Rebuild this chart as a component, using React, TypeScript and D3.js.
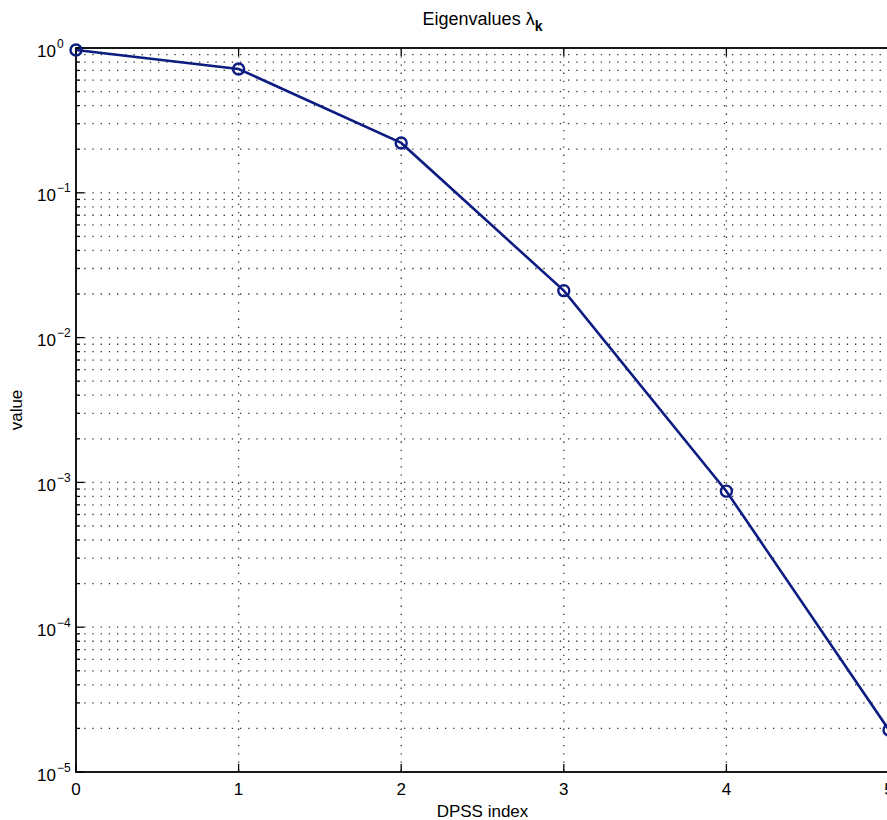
import React from "react";
import * as d3 from "d3";

const dpssIndex = [0, 1, 2, 3, 4, 5];
const eigenvalues = [0.968, 0.716, 0.221, 0.0211, 8.7e-4, 1.95e-5];
const xTicks = [0, 1, 2, 3, 4, 5];
const yExponents = [0, -1, -2, -3, -4, -5];

const W = 887;
const H = 820;
const margin = { left: 76, right: 889, top: 48, bottom: 772 };

export default function App() {
  const x = d3.scaleLinear().domain([0, 5]).range([margin.left, margin.right]);
  const y = d3.scaleLog().domain([1e-5, 1]).range([margin.bottom, margin.top]);

  const minor: number[] = [];
  for (let e = -5; e < 0; e++) {
    for (let m = 2; m <= 9; m++) minor.push(m * Math.pow(10, e));
  }
  const majors = yExponents.map((e) => Math.pow(10, e));

  const line = d3
    .line<number>()
    .x((_, i) => x(dpssIndex[i]))
    .y((d) => y(d));

  const font = "'Liberation Sans', Arial, Helvetica, sans-serif";
  const gridDash = "1.3,6.9";
  const gridColor = "#333";
  const navy = "#0c1c80";

  return (
    <svg width={W} height={H} style={{ position: "absolute", left: 0, top: 0 }} fontFamily={font}>
      <rect x={0} y={0} width={W} height={H} fill="#fff" />
      {/* grid */}
      <g stroke={gridColor} strokeWidth={1.3} strokeDasharray={gridDash} fill="none">
        {[...minor, ...majors.slice(1, 5)].map((v, i) => (
          <line key={"gy" + i} x1={margin.left} x2={margin.right} y1={y(v)} y2={y(v)} />
        ))}
        {xTicks.slice(1, 5).map((t) => (
          <line key={"gx" + t} x1={x(t)} x2={x(t)} y1={margin.top} y2={margin.bottom} />
        ))}
      </g>
      {/* ticks */}
      <g stroke="#000" strokeWidth={1.3}>
        {xTicks.map((t) => (
          <g key={"tx" + t}>
            <line x1={x(t)} x2={x(t)} y1={margin.bottom} y2={margin.bottom - 8} />
            <line x1={x(t)} x2={x(t)} y1={margin.top} y2={margin.top + 8} />
          </g>
        ))}
        {majors.map((v, i) => (
          <line key={"ty" + i} x1={margin.left} x2={margin.left + 8} y1={y(v)} y2={y(v)} />
        ))}
        {minor.map((v, i) => (
          <line key={"tm" + i} x1={margin.left} x2={margin.left + 4} y1={y(v)} y2={y(v)} />
        ))}
      </g>
      {/* box */}
      <rect
        x={margin.left}
        y={margin.top}
        width={margin.right - margin.left}
        height={margin.bottom - margin.top}
        fill="none"
        stroke="#000"
        strokeWidth={1.8}
      />
      {/* data */}
      <path d={line(eigenvalues) || ""} fill="none" stroke={navy} strokeWidth={2.6} />
      {eigenvalues.map((v, i) => (
        <circle key={"p" + i} cx={x(dpssIndex[i])} cy={y(v)} r={5.5} fill="none" stroke={navy} strokeWidth={2.4} />
      ))}
      {/* x labels */}
      {xTicks.map((t) => (
        <text key={"lx" + t} x={x(t)} y={795} fontSize={17} textAnchor="middle" fill="#000">
          {t}
        </text>
      ))}
      {/* y labels */}
      {yExponents.map((e) => {
        const yy = y(Math.pow(10, e));
        return (
          <g key={"ly" + e}>
            <text x={56} y={yy + 8.5} fontSize={17} textAnchor="end" fill="#000">
              10
            </text>
            <text x={57} y={yy - 0.5} fontSize={12} textAnchor="start" fill="#000">
              {e < 0 ? "\u2212" + Math.abs(e) : String(e)}
            </text>
          </g>
        );
      })}
      {/* title */}
      <text x={(margin.left + margin.right) / 2} y={25} fontSize={18} textAnchor="middle" fill="#000">
        Eigenvalues λ
        <tspan fontSize={14} dy={6} fontWeight="bold">k</tspan>
      </text>
      <text x={(margin.left + margin.right) / 2} y={817} fontSize={17} textAnchor="middle" fill="#000">
        DPSS index
      </text>
      <text
        transform={`translate(22, ${(margin.top + margin.bottom) / 2}) rotate(-90)`}
        fontSize={17}
        textAnchor="middle"
        fill="#000"
      >
        value
      </text>
    </svg>
  );
}
